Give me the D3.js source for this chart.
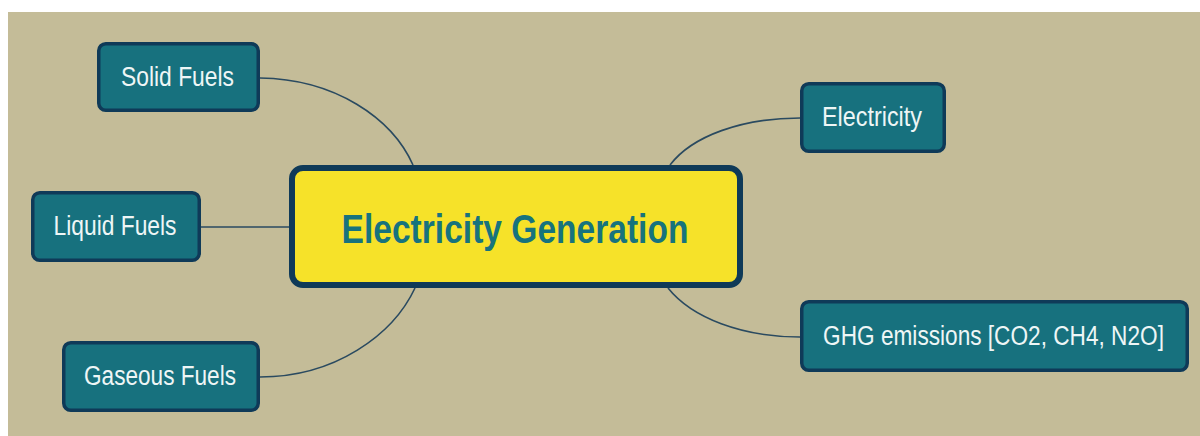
<!DOCTYPE html>
<html>
<head>
<meta charset="utf-8">
<script src="https://cdn.jsdelivr.net/npm/d3@7"></script>
<style>
  html, body { margin: 0; padding: 0; background: #ffffff; }
  svg { display: block; }
</style>
</head>
<body>
<svg id="chart" width="1200" height="436"></svg>
<script>
// ---- data ----
const centralTopic = "Electricity Generation";
const inputNodes = ["Solid Fuels", "Liquid Fuels", "Gaseous Fuels"];
const outputNodes = ["Electricity", "GHG emissions [CO2, CH4, N2O]"];

// ---- layout (positions / sizes kept separate from data) ----
const layout = {
  "Electricity Generation": { x0: 289, y0: 165, x1: 743, y1: 288, tw: 347 },
  "Solid Fuels": { x0: 97, y0: 42, x1: 260, y1: 112, tw: 113 },
  "Liquid Fuels": { x0: 31, y0: 191, x1: 201, y1: 262, tw: 123 },
  "Gaseous Fuels": { x0: 62, y0: 341, x1: 260, y1: 412, tw: 152 },
  "Electricity": { x0: 800, y0: 82, x1: 946, y1: 153, tw: 100 },
  "GHG emissions [CO2, CH4, N2O]": { x0: 800, y0: 300, x1: 1189, y1: 372, tw: 341 }
};
// connector geometry: [start, cp1, cp2, end]
const connectors = {
  "Solid Fuels": [[260, 78], [335, 79], [392, 118], [413, 165]],
  "Liquid Fuels": [[201, 227], [230, 227], [260, 227], [289, 227]],
  "Gaseous Fuels": [[415, 288], [393, 335], [335, 377], [260, 377]],
  "Electricity": [[670, 165], [692, 136], [742, 118], [800, 118]],
  "GHG emissions [CO2, CH4, N2O]": [[668, 288], [692, 318], [742, 337], [800, 337]]
};

const svg = d3.select("#chart");
const W = 1200, H = 436;

// background panel
svg.append("rect")
  .attr("x", 8).attr("y", 12)
  .attr("width", W - 8).attr("height", H - 12)
  .attr("fill", "#c4bc98");

const fontNarrow = "'Liberation Sans Narrow', 'Arial Narrow', 'Liberation Sans', Arial, sans-serif";

// connectors
const allBranches = inputNodes.concat(outputNodes);
svg.append("g").selectAll("path")
  .data(allBranches)
  .join("path")
  .attr("d", d => {
    const c = connectors[d];
    const p = d3.path();
    p.moveTo(c[0][0], c[0][1]);
    p.bezierCurveTo(c[1][0], c[1][1], c[2][0], c[2][1], c[3][0], c[3][1]);
    return p.toString();
  })
  .attr("fill", "none")
  .attr("stroke", "#2a4a60")
  .attr("stroke-width", 1.6);

// horizontally condense a text to its target width (font-independent)
function condense(sel, cx, cy, tw) {
  sel.each(function(d) {
    const node = this;
    const natural = node.getComputedTextLength();
    const sx = natural > 0 ? Math.min(1, tw(d) / natural) : 1;
    d3.select(node)
      .attr("x", 0).attr("y", 0)
      .attr("transform", `translate(${cx(d)},${cy(d)}) scale(${sx},1)`);
  });
}

// branch nodes
const nodes = svg.append("g").selectAll("g")
  .data(allBranches)
  .join("g");

nodes.append("rect")
  .attr("x", d => layout[d].x0 + 1.75)
  .attr("y", d => layout[d].y0 + 1.75)
  .attr("width", d => layout[d].x1 - layout[d].x0 - 3.5)
  .attr("height", d => layout[d].y1 - layout[d].y0 - 3.5)
  .attr("rx", 7).attr("ry", 7)
  .attr("fill", "#17717e")
  .attr("stroke", "#0f3a58")
  .attr("stroke-width", 3.5);

nodes.append("text")
  .attr("text-anchor", "middle")
  .attr("font-family", fontNarrow)
  .attr("font-size", 28)
  .attr("fill", "#eef6f6")
  .text(d => d)
  .call(condense,
        d => (layout[d].x0 + layout[d].x1) / 2 - 1,
        d => (layout[d].y0 + layout[d].y1) / 2 + 8.5,
        d => layout[d].tw);

// central node
const c = layout[centralTopic];
const central = svg.append("g");
central.append("rect")
  .attr("x", c.x0 + 3).attr("y", c.y0 + 3)
  .attr("width", c.x1 - c.x0 - 6).attr("height", c.y1 - c.y0 - 6)
  .attr("rx", 11).attr("ry", 11)
  .attr("fill", "#f6e229")
  .attr("stroke", "#0f3a58")
  .attr("stroke-width", 6);
central.append("text")
  .datum(centralTopic)
  .attr("text-anchor", "middle")
  .attr("font-family", fontNarrow)
  .attr("font-weight", "bold")
  .attr("font-size", 41)
  .attr("fill", "#17737d")
  .text(d => d)
  .call(condense,
        () => (c.x0 + c.x1) / 2 - 1,
        () => (c.y0 + c.y1) / 2 + 16.5,
        () => c.tw);
</script>
</body>
</html>
